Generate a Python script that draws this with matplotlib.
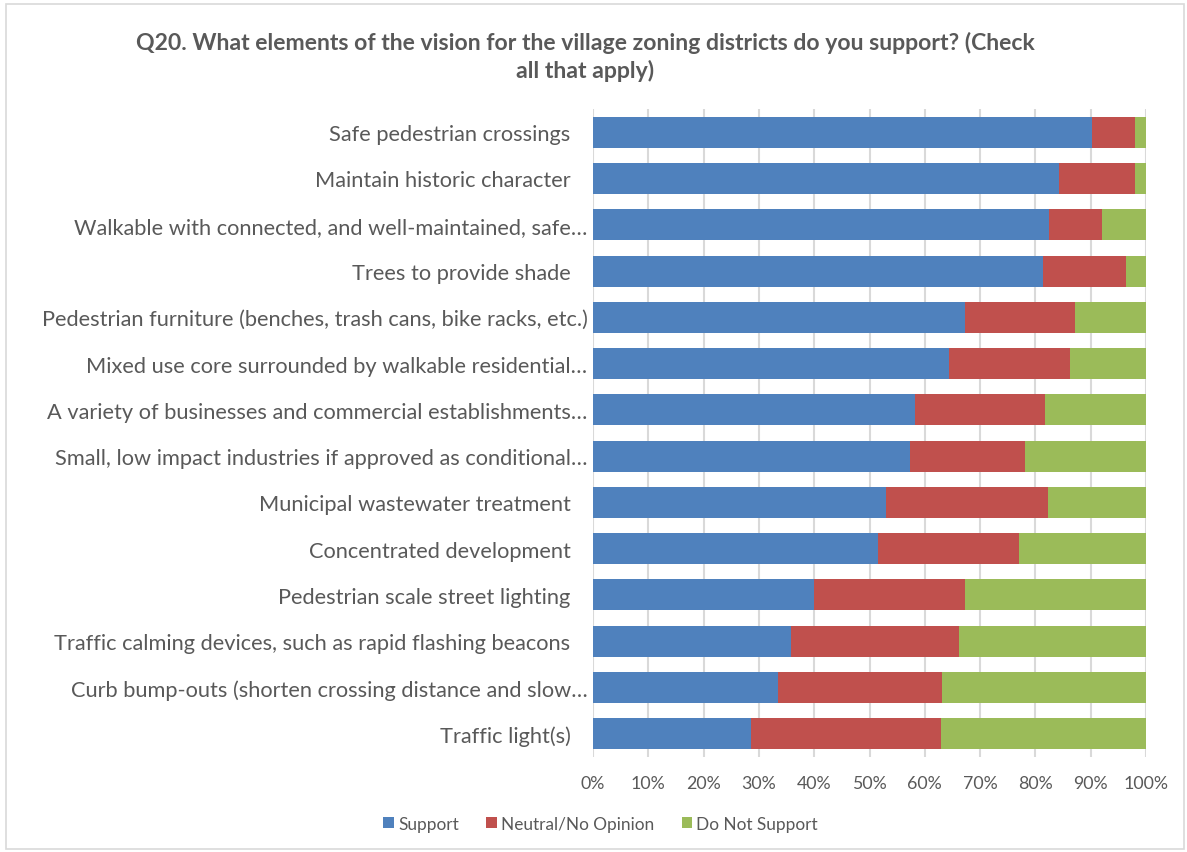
import matplotlib
matplotlib.use("Agg")
import matplotlib.pyplot as plt
from matplotlib.patches import Rectangle, Patch

# categories, top to bottom as shown
labels = [
    "Safe pedestrian crossings   ",
    "Maintain historic character   ",
    "Walkable with connected, and well-maintained, safe…",
    "Trees to provide shade   ",
    "Pedestrian furniture (benches, trash cans, bike racks, etc.)",
    "Mixed use core surrounded by walkable residential…",
    "A variety of businesses and commercial establishments…",
    "Small, low impact industries if approved as conditional…",
    "Municipal wastewater treatment   ",
    "Concentrated development   ",
    "Pedestrian scale street lighting   ",
    "Traffic calming devices, such as rapid flashing beacons   ",
    "Curb bump-outs (shorten crossing distance and slow…",
    "Traffic light(s)   ",
]
support = [90.3, 84.2, 82.4, 81.3, 67.3, 64.4, 58.2, 57.3, 53.0, 51.6, 40.0, 35.8, 33.5, 28.6]
neutral = [7.7, 13.8, 9.6, 15.0, 19.8, 21.9, 23.6, 20.8, 29.2, 25.5, 27.3, 30.4, 29.6, 34.3]
not_support = [2.0, 2.0, 8.0, 3.7, 12.9, 13.7, 18.2, 21.9, 17.8, 22.9, 32.7, 33.8, 36.9, 37.1]

series = ["Support", "Neutral/No Opinion", "Do Not Support"]
colors = ["#4F81BD", "#C0504D", "#9BBB59"]
text_gray = "#595959"

plt.rcParams["font.family"] = ["Lato", "DejaVu Sans"]

fig = plt.figure(figsize=(11.87, 8.53), dpi=100)
ax = fig.add_axes([0.4996, 0.1114, 0.4659, 0.7596])

# chart area border
fig.patches.append(Rectangle((6 / 1187, 3 / 853), 1178 / 1187, 845 / 853,
                             transform=fig.transFigure, fill=False,
                             edgecolor="#d9d9d9", linewidth=1.2))

ypos = list(range(len(labels)))
left = [0.0] * len(labels)
for vals, col, name in zip([support, neutral, not_support], colors, series):
    ax.barh(ypos, vals, left=left, height=0.67, color=col, label=name, zorder=2)
    left = [a + b for a, b in zip(left, vals)]

ax.set_xlim(0, 100)
ax.set_ylim(len(labels) - 0.5, -0.5)
ax.set_xticks(range(0, 101, 10))
ax.set_xticklabels([f"{v}%" for v in range(0, 101, 10)], fontsize=12.8, color=text_gray)
ax.set_yticks(ypos)
ax.set_yticklabels(labels, fontsize=15.7, color=text_gray)
ax.tick_params(axis="both", length=0)
ax.tick_params(axis="x", pad=13)
ax.tick_params(axis="y", pad=4)
ax.grid(axis="x", color="#d9d9d9", linewidth=1.5, zorder=0)
for s in ax.spines.values():
    s.set_visible(False)

fig.text(0.493, 0.962, "Q20. What elements of the vision for the village zoning districts do you support? (Check\nall that apply)",
         ha="center", va="top", fontsize=16.6, fontweight="bold", color=text_gray,
         linespacing=1.3)

handles = [Patch(facecolor=c, label=n) for c, n in zip(colors, series)]
fig.legend(handles=handles, loc="center", bbox_to_anchor=(0.506, 0.033), ncol=3,
           frameon=False, fontsize=12.4, labelcolor=text_gray,
           handlelength=0.6, handleheight=0.6, handletextpad=0.25, columnspacing=1.6)

fig.savefig("out.png", dpi=100)
